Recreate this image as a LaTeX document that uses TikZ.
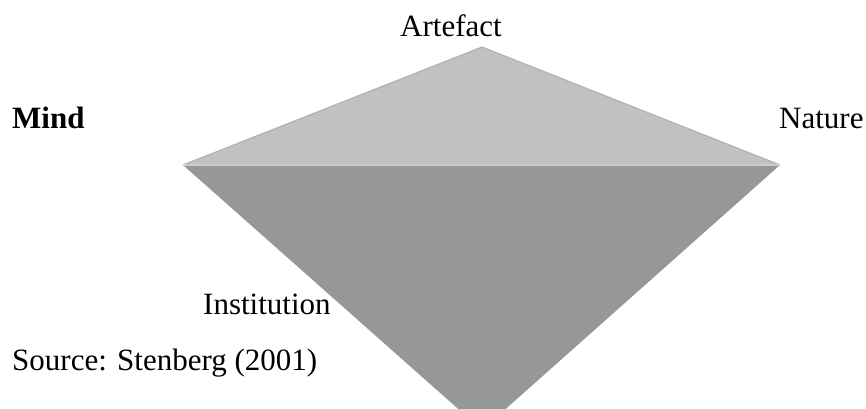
\documentclass[tikz,border=0pt]{standalone}
\usepackage{fontspec}
\setmainfont{Liberation Serif}
\begin{document}
\begin{tikzpicture}[x=1pt,y=-1pt,
  lbl/.style={inner sep=0pt,anchor=base west,font=\fontsize{31}{37}\selectfont},
  upperface/.style={fill=upgray,draw=edgegray,line width=1.2pt,line join=miter},
  lowerface/.style={fill=lowgray}]
  \definecolor{upgray}{RGB}{193,193,193}
  \definecolor{lowgray}{RGB}{151,151,151}
  \definecolor{edgegray}{RGB}{178,178,178}
  \definecolor{rimgray}{RGB}{203,203,203}
  \useasboundingbox (0,0) rectangle (866,408);

  % corners of the two faces
  \coordinate (apex) at (482,47);
  \coordinate (left) at (183,165);
  \coordinate (right) at (780,165);
  \coordinate (tip) at (482,430);

  % lower face, cut off by the page edge
  \begin{scope}
    \clip (0,0) rectangle (866,408);
    \fill[lowerface] (left) -- (right) -- (tip) -- cycle;
  \end{scope}
  % upper face
  \fill[upgray] (left) -- (apex) -- (right) -- cycle;
  \draw[edgegray,line width=1.2pt] (left) -- (apex) -- (right);
  \draw[rimgray,line width=1.5pt] (left) -- (right);

  % labels
  \node[lbl] (artefact) at (400,36) {Artefact};
  \node[lbl] (mind) at (12,128) {\bfseries Mind};
  \node[lbl] (nature) at (779,128) {Nature};
  \node[lbl] (institution) at (203,314) {Institution};
  \node[lbl] (source) at (12,370) {Source: Stenberg (2001)};
\end{tikzpicture}
\end{document}
